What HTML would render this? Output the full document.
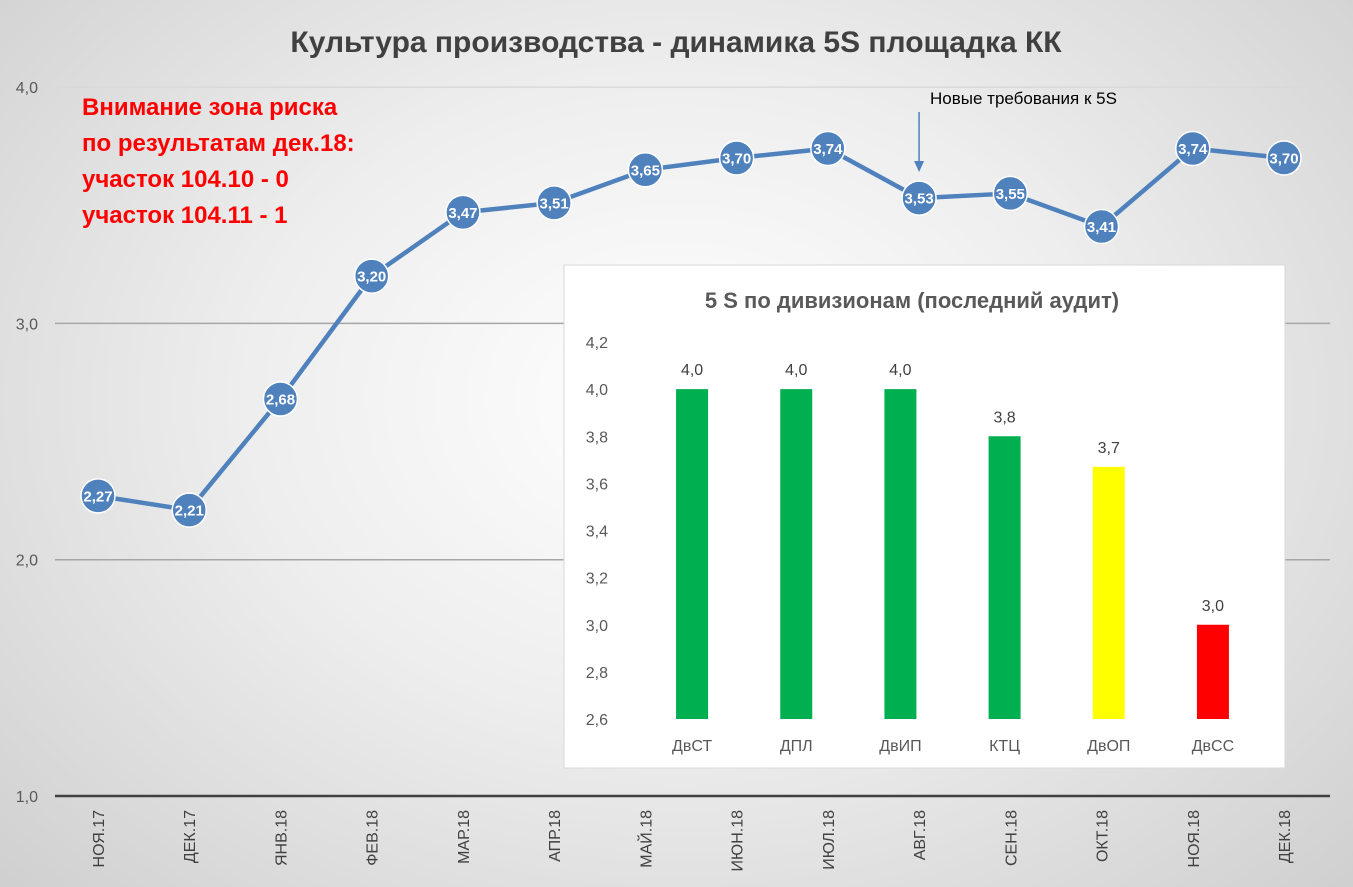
<!DOCTYPE html>
<html><head><meta charset="utf-8">
<style>
body{margin:0;width:1353px;height:887px;overflow:hidden;font-family:"Liberation Sans",sans-serif;}
#bg{position:absolute;left:0;top:0;width:1353px;height:887px;background:radial-gradient(ellipse 70% 80% at 50% 45%,#ffffff 0%,#eeeeee 45%,#cfcfcf 100%);}
</style></head><body>
<div id="bg"></div>
<svg id="c" width="1353" height="887" style="position:absolute;left:0;top:0"></svg>
<script>
const months=["НОЯ.17","ДЕК.17","ЯНВ.18","ФЕВ.18","МАР.18","АПР.18","МАЙ.18","ИЮН.18","ИЮЛ.18","АВГ.18","СЕН.18","ОКТ.18","НОЯ.18","ДЕК.18"];
const scores=[2.27,2.21,2.68,3.20,3.47,3.51,3.65,3.70,3.74,3.53,3.55,3.41,3.74,3.70];
const yTicks=[1,2,3,4];
const divisions=["ДвСТ","ДПЛ","ДвИП","КТЦ","ДвОП","ДвСС"];
const divScores=[4.0,4.0,4.0,3.8,3.67,3.0];
const divLabels=["4,0","4,0","4,0","3,8","3,7","3,0"];
const divColors=["#00b050","#00b050","#00b050","#00b050","#ffff00","#ff0000"];
const divTicks=[2.6,2.8,3.0,3.2,3.4,3.6,3.8,4.0,4.2];

const NS="http://www.w3.org/2000/svg",svg=document.getElementById('c');
function mk(t,a,txt,p){const e=document.createElementNS(NS,t);for(const k in a)e.setAttribute(k,a[k]);if(txt!=null)e.textContent=txt;(p||svg).appendChild(e);return e;}
const fmt=v=>v.toFixed(v%1===0?1:2).replace('.',',');
const x0=55,x1=1330;
const X=i=>98+i*(1284-98)/(months.length-1);
const Y=v=>796-(v-1)*236.3;
let t=mk('text',{x:676,y:52,'text-anchor':'middle','font-size':30,'font-weight':'bold',fill:'#404040'},'Культура производства - динамика 5S площадка КК');

yTicks.forEach(v=>{
  if(v>1){const l=mk('line',{x1:x0,x2:x1,y1:Y(v),y2:Y(v),stroke:v==4?'#d9d9d9':'#a6a6a6','stroke-width':1.5});}
  const e=mk('text',{x:38,y:Y(v)+6,'text-anchor':'end','font-size':16,fill:'#595959'},v.toFixed(1).replace('.',','));
  
});
let ax=mk('line',{x1:x0,x2:x1,y1:796,y2:796,stroke:'#404040','stroke-width':2.5});

months.forEach((m,i)=>{
  const e=mk('text',{transform:`translate(${X(i)+6},810) rotate(-90)`,'text-anchor':'end','font-size':16,fill:'#404040'},m);
  
});
let pl=mk('polyline',{points:scores.map((v,i)=>X(i)+','+Y(v)).join(' '),fill:'none',stroke:'#4f81bd','stroke-width':4.5,'stroke-linejoin':'round'});

scores.forEach((v,i)=>{
  const c=mk('circle',{cx:X(i),cy:Y(v),r:17,fill:'#4f81bd',stroke:'#fff','stroke-width':1.5});
  
  const e=mk('text',{x:X(i),y:Y(v)+5.5,'text-anchor':'middle','font-size':15,'font-weight':'bold',fill:'#fff'},fmt(v));
  
});
const ax9=X(9);
let an=mk('text',{x:930,y:104,'font-size':17,fill:'#000'},'Новые требования к 5S');

let ar=mk('line',{x1:ax9,x2:ax9,y1:112,y2:165,stroke:'#4f81bd','stroke-width':1.5});

let ah=mk('polygon',{points:`${ax9-5},161 ${ax9+5},161 ${ax9},172`,fill:'#4f81bd'});

const warn=["Внимание зона риска","по результатам дек.18:","участок 104.10 - 0","участок 104.11 - 1"];
warn.forEach((s,i)=>{const e=mk('text',{x:82,y:115+i*36,'font-size':24,'font-weight':'bold',fill:'#ff0000'},s);
  });
const g=mk('g',{});
let bx=mk('rect',{x:564,y:265,width:721,height:503,fill:'#fff',stroke:'#d9d9d9','stroke-width':1},null,g);

let it=mk('text',{x:912,y:308,'text-anchor':'middle','font-size':22,'font-weight':'bold',fill:'#595959'},'5 S по дивизионам (последний аудит)',g);

const bx0=640,bx1=1265,bb=(bx1-bx0)/divisions.length;
const BX=i=>bx0+bb*(i+0.5);
const BY=v=>719-(v-2.6)/1.6*377;
divTicks.forEach(v=>{
  const e=mk('text',{x:608,y:BY(v)+6,'text-anchor':'end','font-size':16,fill:'#595959'},v.toFixed(1).replace('.',','),g);
  
});
divisions.forEach((d,i)=>{
  const r=mk('rect',{x:BX(i)-16,y:BY(divScores[i]),width:32,height:719-BY(divScores[i]),fill:divColors[i]},null,g);
  
  const e=mk('text',{x:BX(i),y:BY(divScores[i])-14,'text-anchor':'middle','font-size':16,fill:'#404040'},divLabels[i],g);
  
  const c=mk('text',{x:BX(i),y:751,'text-anchor':'middle','font-size':16,fill:'#595959'},d,g);
  
});
</script>
</body></html>
